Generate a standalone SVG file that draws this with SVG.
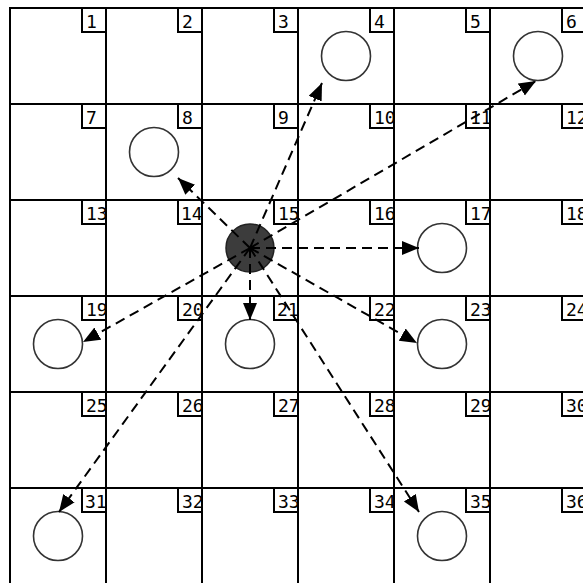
<svg xmlns="http://www.w3.org/2000/svg" width="583" height="583" viewBox="0 0 583 583">
<style>
.cell{fill:#fff;stroke:#000;stroke-width:2}
.lb{fill:#fff;stroke:#000;stroke-width:2}
.lt{font-family:"DejaVu Sans Mono",monospace;font-size:18px;fill:#000}
.nd{fill:#fff;stroke:#333;stroke-width:1.6}
.ctr{fill:#3c3c3c;stroke:#222;stroke-width:1.5}
.ar{fill:none;stroke:#000;stroke-width:2;stroke-dasharray:10 6}
</style>
<defs>
<marker id="ah" markerUnits="userSpaceOnUse" markerWidth="18" markerHeight="16" refX="17" refY="7" orient="auto">
<path d="M0,0 L17,7 L0,14 Z" fill="#000"/>
</marker>
</defs>
<rect width="583" height="583" fill="#fff"/>
<g id="grid">
<g id="cell-1"><rect class="cell" x="10" y="8" width="96" height="96"/><rect class="lb" x="82" y="8" width="24" height="24"/><svg x="82" y="8" width="23" height="24"><text class="lt" x="4" y="20">1</text></svg></g>
<g id="cell-2"><rect class="cell" x="106" y="8" width="96" height="96"/><rect class="lb" x="178" y="8" width="24" height="24"/><svg x="178" y="8" width="23" height="24"><text class="lt" x="4" y="20">2</text></svg></g>
<g id="cell-3"><rect class="cell" x="202" y="8" width="96" height="96"/><rect class="lb" x="274" y="8" width="24" height="24"/><svg x="274" y="8" width="23" height="24"><text class="lt" x="4" y="20">3</text></svg></g>
<g id="cell-4"><rect class="cell" x="298" y="8" width="96" height="96"/><rect class="lb" x="370" y="8" width="24" height="24"/><svg x="370" y="8" width="23" height="24"><text class="lt" x="4" y="20">4</text></svg></g>
<g id="cell-5"><rect class="cell" x="394" y="8" width="96" height="96"/><rect class="lb" x="466" y="8" width="24" height="24"/><svg x="466" y="8" width="23" height="24"><text class="lt" x="4" y="20">5</text></svg></g>
<g id="cell-6"><rect class="cell" x="490" y="8" width="96" height="96"/><rect class="lb" x="562" y="8" width="24" height="24"/><svg x="562" y="8" width="23" height="24"><text class="lt" x="4" y="20">6</text></svg></g>
<g id="cell-7"><rect class="cell" x="10" y="104" width="96" height="96"/><rect class="lb" x="82" y="104" width="24" height="24"/><svg x="82" y="104" width="23" height="24"><text class="lt" x="4" y="20">7</text></svg></g>
<g id="cell-8"><rect class="cell" x="106" y="104" width="96" height="96"/><rect class="lb" x="178" y="104" width="24" height="24"/><svg x="178" y="104" width="23" height="24"><text class="lt" x="4" y="20">8</text></svg></g>
<g id="cell-9"><rect class="cell" x="202" y="104" width="96" height="96"/><rect class="lb" x="274" y="104" width="24" height="24"/><svg x="274" y="104" width="23" height="24"><text class="lt" x="4" y="20">9</text></svg></g>
<g id="cell-10"><rect class="cell" x="298" y="104" width="96" height="96"/><rect class="lb" x="370" y="104" width="24" height="24"/><svg x="370" y="104" width="23" height="24"><text class="lt" x="4" y="20">10</text></svg></g>
<g id="cell-11"><rect class="cell" x="394" y="104" width="96" height="96"/><rect class="lb" x="466" y="104" width="24" height="24"/><svg x="466" y="104" width="23" height="24"><text class="lt" x="4" y="20">11</text></svg></g>
<g id="cell-12"><rect class="cell" x="490" y="104" width="96" height="96"/><rect class="lb" x="562" y="104" width="24" height="24"/><svg x="562" y="104" width="23" height="24"><text class="lt" x="4" y="20">12</text></svg></g>
<g id="cell-13"><rect class="cell" x="10" y="200" width="96" height="96"/><rect class="lb" x="82" y="200" width="24" height="24"/><svg x="82" y="200" width="23" height="24"><text class="lt" x="4" y="20">13</text></svg></g>
<g id="cell-14"><rect class="cell" x="106" y="200" width="96" height="96"/><rect class="lb" x="178" y="200" width="24" height="24"/><svg x="178" y="200" width="23" height="24"><text class="lt" x="3" y="20">14</text></svg></g>
<g id="cell-15"><rect class="cell" x="202" y="200" width="96" height="96"/><rect class="lb" x="274" y="200" width="24" height="24"/><svg x="274" y="200" width="23" height="24"><text class="lt" x="4" y="20">15</text></svg></g>
<g id="cell-16"><rect class="cell" x="298" y="200" width="96" height="96"/><rect class="lb" x="370" y="200" width="24" height="24"/><svg x="370" y="200" width="23" height="24"><text class="lt" x="4" y="20">16</text></svg></g>
<g id="cell-17"><rect class="cell" x="394" y="200" width="96" height="96"/><rect class="lb" x="466" y="200" width="24" height="24"/><svg x="466" y="200" width="23" height="24"><text class="lt" x="4" y="20">17</text></svg></g>
<g id="cell-18"><rect class="cell" x="490" y="200" width="96" height="96"/><rect class="lb" x="562" y="200" width="24" height="24"/><svg x="562" y="200" width="23" height="24"><text class="lt" x="4" y="20">18</text></svg></g>
<g id="cell-19"><rect class="cell" x="10" y="296" width="96" height="96"/><rect class="lb" x="82" y="296" width="24" height="24"/><svg x="82" y="296" width="23" height="24"><text class="lt" x="4" y="20">19</text></svg></g>
<g id="cell-20"><rect class="cell" x="106" y="296" width="96" height="96"/><rect class="lb" x="178" y="296" width="24" height="24"/><svg x="178" y="296" width="23" height="24"><text class="lt" x="4" y="20">20</text></svg></g>
<g id="cell-21"><rect class="cell" x="202" y="296" width="96" height="96"/><rect class="lb" x="274" y="296" width="24" height="24"/><svg x="274" y="296" width="23" height="24"><text class="lt" x="3" y="20">21</text></svg></g>
<g id="cell-22"><rect class="cell" x="298" y="296" width="96" height="96"/><rect class="lb" x="370" y="296" width="24" height="24"/><svg x="370" y="296" width="23" height="24"><text class="lt" x="4" y="20">22</text></svg></g>
<g id="cell-23"><rect class="cell" x="394" y="296" width="96" height="96"/><rect class="lb" x="466" y="296" width="24" height="24"/><svg x="466" y="296" width="23" height="24"><text class="lt" x="4" y="20">23</text></svg></g>
<g id="cell-24"><rect class="cell" x="490" y="296" width="96" height="96"/><rect class="lb" x="562" y="296" width="24" height="24"/><svg x="562" y="296" width="23" height="24"><text class="lt" x="4" y="20">24</text></svg></g>
<g id="cell-25"><rect class="cell" x="10" y="392" width="96" height="96"/><rect class="lb" x="82" y="392" width="24" height="24"/><svg x="82" y="392" width="23" height="24"><text class="lt" x="4" y="20">25</text></svg></g>
<g id="cell-26"><rect class="cell" x="106" y="392" width="96" height="96"/><rect class="lb" x="178" y="392" width="24" height="24"/><svg x="178" y="392" width="23" height="24"><text class="lt" x="4" y="20">26</text></svg></g>
<g id="cell-27"><rect class="cell" x="202" y="392" width="96" height="96"/><rect class="lb" x="274" y="392" width="24" height="24"/><svg x="274" y="392" width="23" height="24"><text class="lt" x="4" y="20">27</text></svg></g>
<g id="cell-28"><rect class="cell" x="298" y="392" width="96" height="96"/><rect class="lb" x="370" y="392" width="24" height="24"/><svg x="370" y="392" width="23" height="24"><text class="lt" x="4" y="20">28</text></svg></g>
<g id="cell-29"><rect class="cell" x="394" y="392" width="96" height="96"/><rect class="lb" x="466" y="392" width="24" height="24"/><svg x="466" y="392" width="23" height="24"><text class="lt" x="4" y="20">29</text></svg></g>
<g id="cell-30"><rect class="cell" x="490" y="392" width="96" height="96"/><rect class="lb" x="562" y="392" width="24" height="24"/><svg x="562" y="392" width="23" height="24"><text class="lt" x="4" y="20">30</text></svg></g>
<g id="cell-31"><rect class="cell" x="10" y="488" width="96" height="96"/><rect class="lb" x="82" y="488" width="24" height="24"/><svg x="82" y="488" width="23" height="24"><text class="lt" x="3" y="20">31</text></svg></g>
<g id="cell-32"><rect class="cell" x="106" y="488" width="96" height="96"/><rect class="lb" x="178" y="488" width="24" height="24"/><svg x="178" y="488" width="23" height="24"><text class="lt" x="4" y="20">32</text></svg></g>
<g id="cell-33"><rect class="cell" x="202" y="488" width="96" height="96"/><rect class="lb" x="274" y="488" width="24" height="24"/><svg x="274" y="488" width="23" height="24"><text class="lt" x="4" y="20">33</text></svg></g>
<g id="cell-34"><rect class="cell" x="298" y="488" width="96" height="96"/><rect class="lb" x="370" y="488" width="24" height="24"/><svg x="370" y="488" width="23" height="24"><text class="lt" x="4" y="20">34</text></svg></g>
<g id="cell-35"><rect class="cell" x="394" y="488" width="96" height="96"/><rect class="lb" x="466" y="488" width="24" height="24"/><svg x="466" y="488" width="23" height="24"><text class="lt" x="4" y="20">35</text></svg></g>
<g id="cell-36"><rect class="cell" x="490" y="488" width="96" height="96"/><rect class="lb" x="562" y="488" width="24" height="24"/><svg x="562" y="488" width="23" height="24"><text class="lt" x="4" y="20">36</text></svg></g>
</g>
<g id="node-4"><circle class="nd" cx="346" cy="56" r="24.5"/></g>
<g id="node-6"><circle class="nd" cx="538" cy="56" r="24.5"/></g>
<g id="node-8"><circle class="nd" cx="154" cy="152" r="24.5"/></g>
<g id="node-17"><circle class="nd" cx="442" cy="248" r="24.5"/></g>
<g id="node-19"><circle class="nd" cx="58" cy="344" r="24.5"/></g>
<g id="node-21"><circle class="nd" cx="250" cy="344" r="24.5"/></g>
<g id="node-23"><circle class="nd" cx="442" cy="344" r="24.5"/></g>
<g id="node-31"><circle class="nd" cx="58" cy="536" r="24.5"/></g>
<g id="node-35"><circle class="nd" cx="442" cy="536" r="24.5"/></g>
<g id="node-15"><circle class="ctr" cx="250" cy="248" r="24"/></g>
<g id="connectors">
<line class="ar" x1="250" y1="248" x2="322" y2="83" marker-end="url(#ah)"/>
<line class="ar" x1="250" y1="248" x2="536" y2="81" marker-end="url(#ah)"/>
<line class="ar" x1="250" y1="248" x2="178" y2="178" marker-end="url(#ah)"/>
<line class="ar" x1="250" y1="248" x2="419" y2="248" marker-end="url(#ah)"/>
<line class="ar" x1="250" y1="248" x2="83" y2="342" marker-end="url(#ah)"/>
<line class="ar" x1="250" y1="248" x2="250" y2="320" marker-end="url(#ah)"/>
<line class="ar" x1="250" y1="248" x2="417" y2="343" marker-end="url(#ah)"/>
<line class="ar" x1="250" y1="248" x2="59" y2="512" marker-end="url(#ah)"/>
<line class="ar" x1="250" y1="248" x2="419" y2="512" marker-end="url(#ah)"/>
</g>
</svg>
